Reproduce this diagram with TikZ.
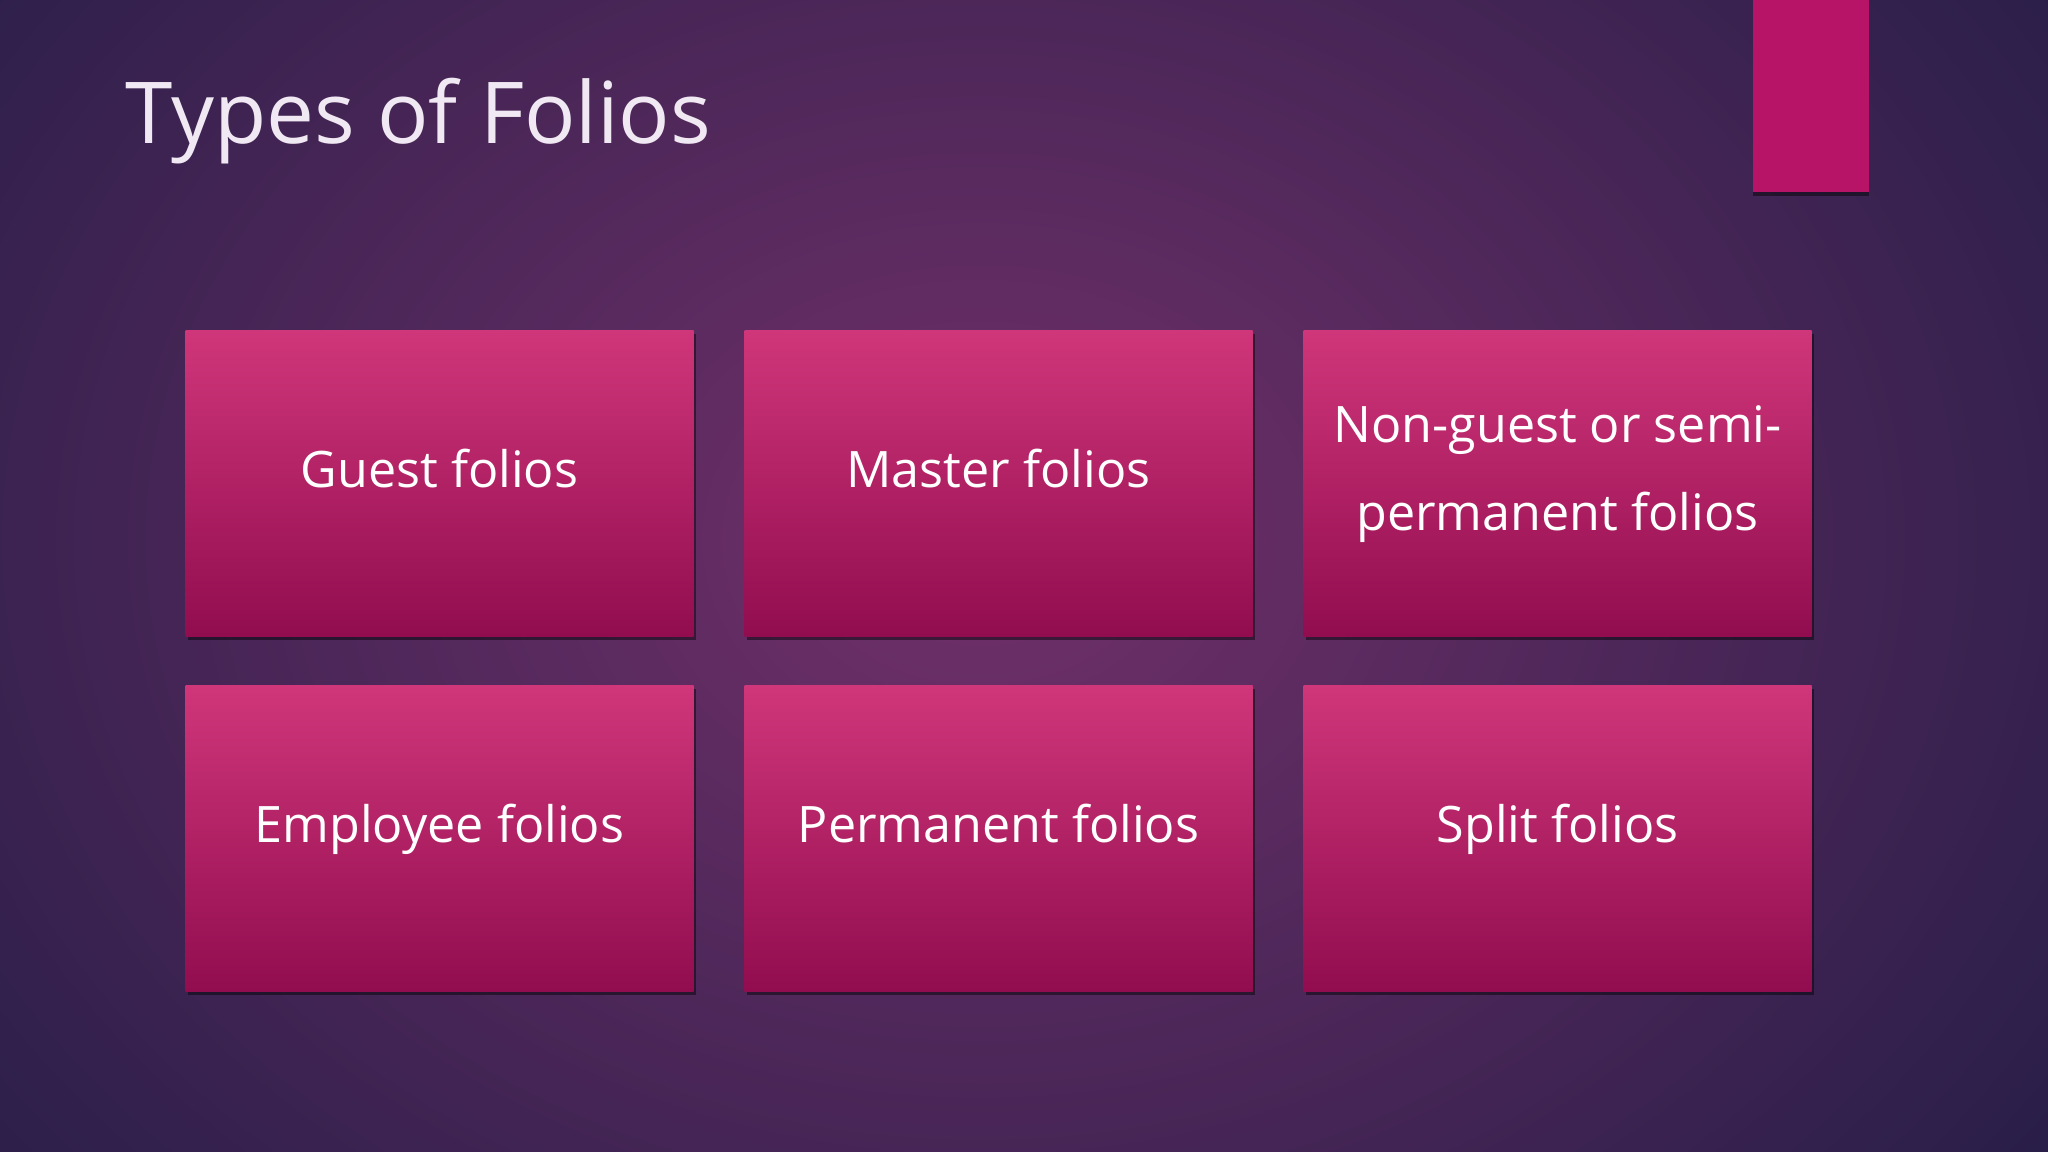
\documentclass[tikz,border=0pt]{standalone}
\usepackage{fontspec}
\setmainfont{Open Sans}
\usetikzlibrary{shadows}
\definecolor{bgcenter}{RGB}{114,48,106}
\definecolor{bgedge}{RGB}{36,29,70}
\definecolor{foliotop}{RGB}{208,54,122}
\definecolor{foliobot}{RGB}{145,13,79}
\definecolor{accent}{RGB}{183,20,103}
\definecolor{titletext}{RGB}{240,232,242}

\begin{document}
\begin{tikzpicture}[
  folio/.style={rectangle, minimum width=5.08cm, minimum height=3.06cm,
    top color=foliotop, bottom color=foliobot, text=white, align=center,
    font=\fontsize{14.3}{25}\selectfont, text height=10pt, text depth=7.7pt,
    drop shadow={shadow xshift=0.02cm, shadow yshift=-0.04cm, opacity=0.45, fill=black}}
]
  \useasboundingbox (0,0) rectangle (20.48,-11.52);
  % background
  \begin{scope}
    \clip (0,0) rectangle (20.48,-11.52);
    \fill[bgedge] (0,0) rectangle (20.48,-11.52);
    \shade[inner color=bgcenter, outer color=bgedge] (9.8,-5.4) ellipse (14 and 11);
  \end{scope}
  \fill[accent, drop shadow={shadow xshift=0cm, shadow yshift=-0.04cm, opacity=0.45, fill=black}]
    (17.53,0) rectangle (18.69,-1.92);
  % title
  \node[anchor=base west, text=titletext, font=\fontsize{24.3}{30}\selectfont, inner sep=0pt]
    (title) at (1.25,-1.44) {Types of Folios};
  % boxes
  \node[folio] (guest) at (4.395,-4.832) {Guest folios};
  \node[folio] (master) at (9.985,-4.832) {Master folios};
  \node[folio, text height=30pt, text depth=3.2pt] (nonguest) at (15.575,-4.832)
    {Non-guest or semi-\\permanent folios};
  \node[folio] (employee) at (4.395,-8.385) {Employee folios};
  \node[folio] (permanent) at (9.985,-8.385) {Permanent folios};
  \node[folio] (split) at (15.575,-8.385) {Split folios};
\end{tikzpicture}
\end{document}
